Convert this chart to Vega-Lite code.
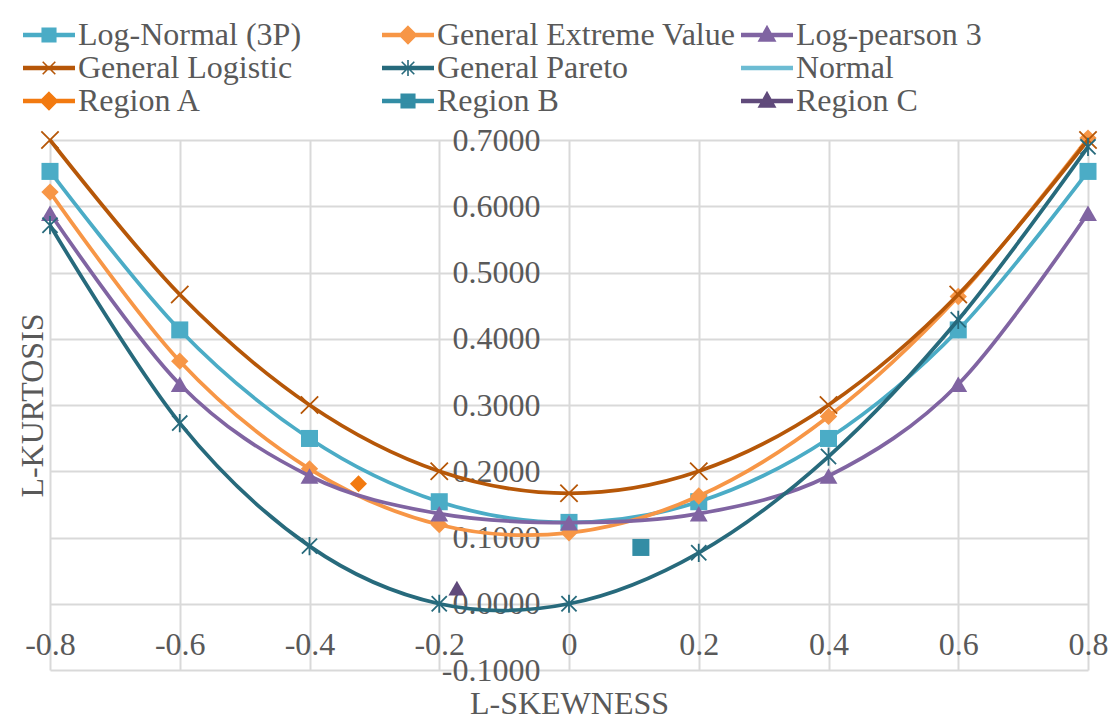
{
  "$schema": "https://vega.github.io/schema/vega-lite/v6.json",
  "width": 1038,
  "height": 530,
  "autosize": {"type": "none"},
  "padding": {"left": 50, "top": 140, "right": 27, "bottom": 51},
  "background": "white",
  "config": {
    "view": {"stroke": null},
    "font": "Liberation Serif",
    "axis": {
      "labelFont": "Liberation Serif",
      "titleFont": "Liberation Serif",
      "labelColor": "#595959",
      "titleColor": "#595959",
      "labelFontSize": 32,
      "titleFontSize": 32,
      "titleFontWeight": "normal",
      "grid": true,
      "gridColor": "#d9d9d9",
      "gridWidth": 2,
      "domain": false,
      "ticks": false,
      "tickSize": 0,
      "labelFlush": false,
      "labelOverlap": false
    }
  },
  "data": {
    "values": [
      {"series": "Log-Normal (3P)", "skew": -0.8, "kurt": 0.6526},
      {"series": "Log-Normal (3P)", "skew": -0.6, "kurt": 0.4133},
      {"series": "Log-Normal (3P)", "skew": -0.4, "kurt": 0.2495},
      {"series": "Log-Normal (3P)", "skew": -0.2, "kurt": 0.154},
      {"series": "Log-Normal (3P)", "skew": 0, "kurt": 0.1228},
      {"series": "Log-Normal (3P)", "skew": 0.2, "kurt": 0.154},
      {"series": "Log-Normal (3P)", "skew": 0.4, "kurt": 0.2495},
      {"series": "Log-Normal (3P)", "skew": 0.6, "kurt": 0.4133},
      {"series": "Log-Normal (3P)", "skew": 0.8, "kurt": 0.6526},
      {"series": "General Extreme Value", "skew": -0.8, "kurt": 0.6214},
      {"series": "General Extreme Value", "skew": -0.6, "kurt": 0.3661},
      {"series": "General Extreme Value", "skew": -0.4, "kurt": 0.2036},
      {"series": "General Extreme Value", "skew": -0.2, "kurt": 0.1193},
      {"series": "General Extreme Value", "skew": 0, "kurt": 0.107},
      {"series": "General Extreme Value", "skew": 0.2, "kurt": 0.1626},
      {"series": "General Extreme Value", "skew": 0.4, "kurt": 0.2827},
      {"series": "General Extreme Value", "skew": 0.6, "kurt": 0.4638},
      {"series": "General Extreme Value", "skew": 0.8, "kurt": 0.7029},
      {"series": "Log-pearson 3", "skew": -0.8, "kurt": 0.5894},
      {"series": "Log-pearson 3", "skew": -0.6, "kurt": 0.3314},
      {"series": "Log-pearson 3", "skew": -0.4, "kurt": 0.1929},
      {"series": "Log-pearson 3", "skew": -0.2, "kurt": 0.1359},
      {"series": "Log-pearson 3", "skew": 0, "kurt": 0.1224},
      {"series": "Log-pearson 3", "skew": 0.2, "kurt": 0.1359},
      {"series": "Log-pearson 3", "skew": 0.4, "kurt": 0.1929},
      {"series": "Log-pearson 3", "skew": 0.6, "kurt": 0.3314},
      {"series": "Log-pearson 3", "skew": 0.8, "kurt": 0.5894},
      {"series": "General Logistic", "skew": -0.8, "kurt": 0.7},
      {"series": "General Logistic", "skew": -0.6, "kurt": 0.4667},
      {"series": "General Logistic", "skew": -0.4, "kurt": 0.3},
      {"series": "General Logistic", "skew": -0.2, "kurt": 0.2},
      {"series": "General Logistic", "skew": 0, "kurt": 0.1667},
      {"series": "General Logistic", "skew": 0.2, "kurt": 0.2},
      {"series": "General Logistic", "skew": 0.4, "kurt": 0.3},
      {"series": "General Logistic", "skew": 0.6, "kurt": 0.4667},
      {"series": "General Logistic", "skew": 0.8, "kurt": 0.7},
      {"series": "General Pareto", "skew": -0.8, "kurt": 0.5714},
      {"series": "General Pareto", "skew": -0.6, "kurt": 0.2727},
      {"series": "General Pareto", "skew": -0.4, "kurt": 0.087},
      {"series": "General Pareto", "skew": -0.2, "kurt": 0.0},
      {"series": "General Pareto", "skew": 0, "kurt": 0.0},
      {"series": "General Pareto", "skew": 0.2, "kurt": 0.0769},
      {"series": "General Pareto", "skew": 0.4, "kurt": 0.2222},
      {"series": "General Pareto", "skew": 0.6, "kurt": 0.4286},
      {"series": "General Pareto", "skew": 0.8, "kurt": 0.6897},
      {"series": "Normal", "skew": 0, "kurt": 0.1226},
      {"series": "Region A", "skew": -0.3245, "kurt": 0.181},
      {"series": "Region B", "skew": 0.1108, "kurt": 0.085},
      {"series": "Region C", "skew": -0.1728, "kurt": 0.0235}
    ]
  },
  "encoding": {
    "x": {
      "field": "skew",
      "type": "quantitative",
      "scale": {"domain": [-0.8, 0.8], "nice": false, "zero": false},
      "axis": {
        "title": "L-SKEWNESS",
        "values": [-0.8, -0.6, -0.4, -0.2, 0, 0.2, 0.4, 0.6, 0.8],
        "format": "~g",
        "labelExpr": "replace(datum.label, '−', '-')",
        "labelPadding": -16,
        "labelBaseline": "alphabetic",
        "titleX": 519,
        "titleY": 43,
        "titleAlign": "center",
        "titleBaseline": "alphabetic"
      }
    },
    "y": {
      "field": "kurt",
      "type": "quantitative",
      "scale": {"domain": [-0.1, 0.7], "nice": false, "zero": false},
      "axis": {
        "title": "L-KURTOSIS",
        "values": [-0.1, 0, 0.1, 0.2, 0.3, 0.4, 0.5, 0.6, 0.7],
        "format": ".4f",
        "labelExpr": "replace(datum.label, '−', '-')",
        "labelPadding": -490,
        "labelAlign": "right",
        "labelBaseline": "middle",
        "titleX": -18,
        "titleY": 265,
        "titleAngle": 270,
        "titleAlign": "center",
        "titleBaseline": "middle"
      }
    },
    "color": {
      "field": "series",
      "type": "nominal",
      "scale": {
        "domain": ["Log-Normal (3P)", "General Extreme Value", "Log-pearson 3", "General Logistic", "General Pareto", "Normal", "Region A", "Region B", "Region C"],
        "range": ["#4bacc6", "#f79646", "#8064a2", "#b65708", "#276a7c", "#6dbcd3", "#f27a10", "#338da5", "#604a7b"]
      },
      "legend": {
        "title": null,
        "orient": "none",
        "legendX": -17,
        "legendY": -121,
        "columns": 3,
        "direction": "horizontal",
        "gridAlign": "all",
        "columnPadding": 2,
        "rowPadding": 1,
        "padding": 0,
        "symbolSize": 324,
        "labelFont": "Liberation Serif",
        "labelFontSize": 32,
        "labelColor": "#595959",
        "labelOffset": 13,
        "labelLimit": 400,
        "encode": {
          "symbols": {
            "update": {
              "shape": {"signal": "(datum.value === 'Log-Normal (3P)' || datum.value === 'Region B') ? 'M-2.8,-0.15L2.8,-0.15L2.8,0.15L-2.8,0.15ZM-0.75,-0.75L0.75,-0.75L0.75,0.75L-0.75,0.75Z' : (datum.value === 'General Extreme Value' || datum.value === 'Region A') ? 'M-2.8,-0.15L2.8,-0.15L2.8,0.15L-2.8,0.15ZM0,-0.95L0.95,0L0,0.95L-0.95,0Z' : (datum.value === 'Log-pearson 3' || datum.value === 'Region C') ? 'M-2.8,-0.15L2.8,-0.15L2.8,0.15L-2.8,0.15ZM0,-0.95L0.9,0.65L-0.9,0.65Z' : datum.value === 'General Logistic' ? 'M-2.8,-0.15L2.8,-0.15L2.8,0.15L-2.8,0.15ZM-0.7,-0.7L0.7,0.7M-0.7,0.7L0.7,-0.7' : datum.value === 'General Pareto' ? 'M-2.8,-0.15L2.8,-0.15L2.8,0.15L-2.8,0.15ZM-0.7,-0.7L0.7,0.7M-0.7,0.7L0.7,-0.7M0,-0.9L0,0.9' : 'M-2.8,-0.15L2.8,-0.15L2.8,0.15L-2.8,0.15Z'"},
              "fill": {"signal": "scale('color', datum.value)"},
              "stroke": {"signal": "scale('color', datum.value)"},
              "strokeWidth": {"value": 1.6},
              "opacity": {"value": 1}
            }
          }
        }
      }
    }
  },
  "layer": [
    {
      "transform": [{"filter": "datum.series === 'Log-Normal (3P)'"}],
      "mark": {"type": "line", "interpolate": "cardinal", "strokeWidth": 3.75,
               "point": {"shape": "square", "filled": true, "size": 290, "opacity": 1}}
    },
    {
      "transform": [{"filter": "datum.series === 'General Extreme Value'"}],
      "mark": {"type": "line", "interpolate": "cardinal", "strokeWidth": 3.75,
               "point": {"shape": "diamond", "filled": true, "size": 300, "opacity": 1}}
    },
    {
      "transform": [{"filter": "datum.series === 'Log-pearson 3'"}],
      "mark": {"type": "line", "interpolate": "cardinal", "strokeWidth": 3.75,
               "point": {"shape": "triangle-up", "filled": true, "size": 320, "opacity": 1}}
    },
    {
      "transform": [{"filter": "datum.series === 'General Logistic'"}],
      "mark": {"type": "line", "interpolate": "cardinal", "strokeWidth": 3.75,
               "point": {"shape": "M-1,-1L1,1M-1,1L1,-1", "filled": false, "size": 300, "strokeWidth": 1.8, "opacity": 1}}
    },
    {
      "transform": [{"filter": "datum.series === 'General Pareto'"}],
      "mark": {"type": "line", "interpolate": "cardinal", "strokeWidth": 3.75,
               "point": {"shape": "M-1,-1L1,1M-1,1L1,-1M0,-1.2L0,1.2", "filled": false, "size": 230, "strokeWidth": 1.8, "opacity": 1}}
    },
    {
      "transform": [{"filter": "datum.series === 'Normal'"}],
      "mark": {"type": "line", "interpolate": "cardinal", "strokeWidth": 3.75}
    },
    {
      "transform": [{"filter": "indexof(['Region A', 'Region B', 'Region C'], datum.series) >= 0"}],
      "mark": {"type": "point", "filled": true, "size": 290, "opacity": 1},
      "encoding": {
        "shape": {
          "field": "series",
          "type": "nominal",
          "scale": {"domain": ["Region A", "Region B", "Region C"], "range": ["diamond", "square", "triangle-up"]},
          "legend": null
        }
      }
    }
  ]
}
